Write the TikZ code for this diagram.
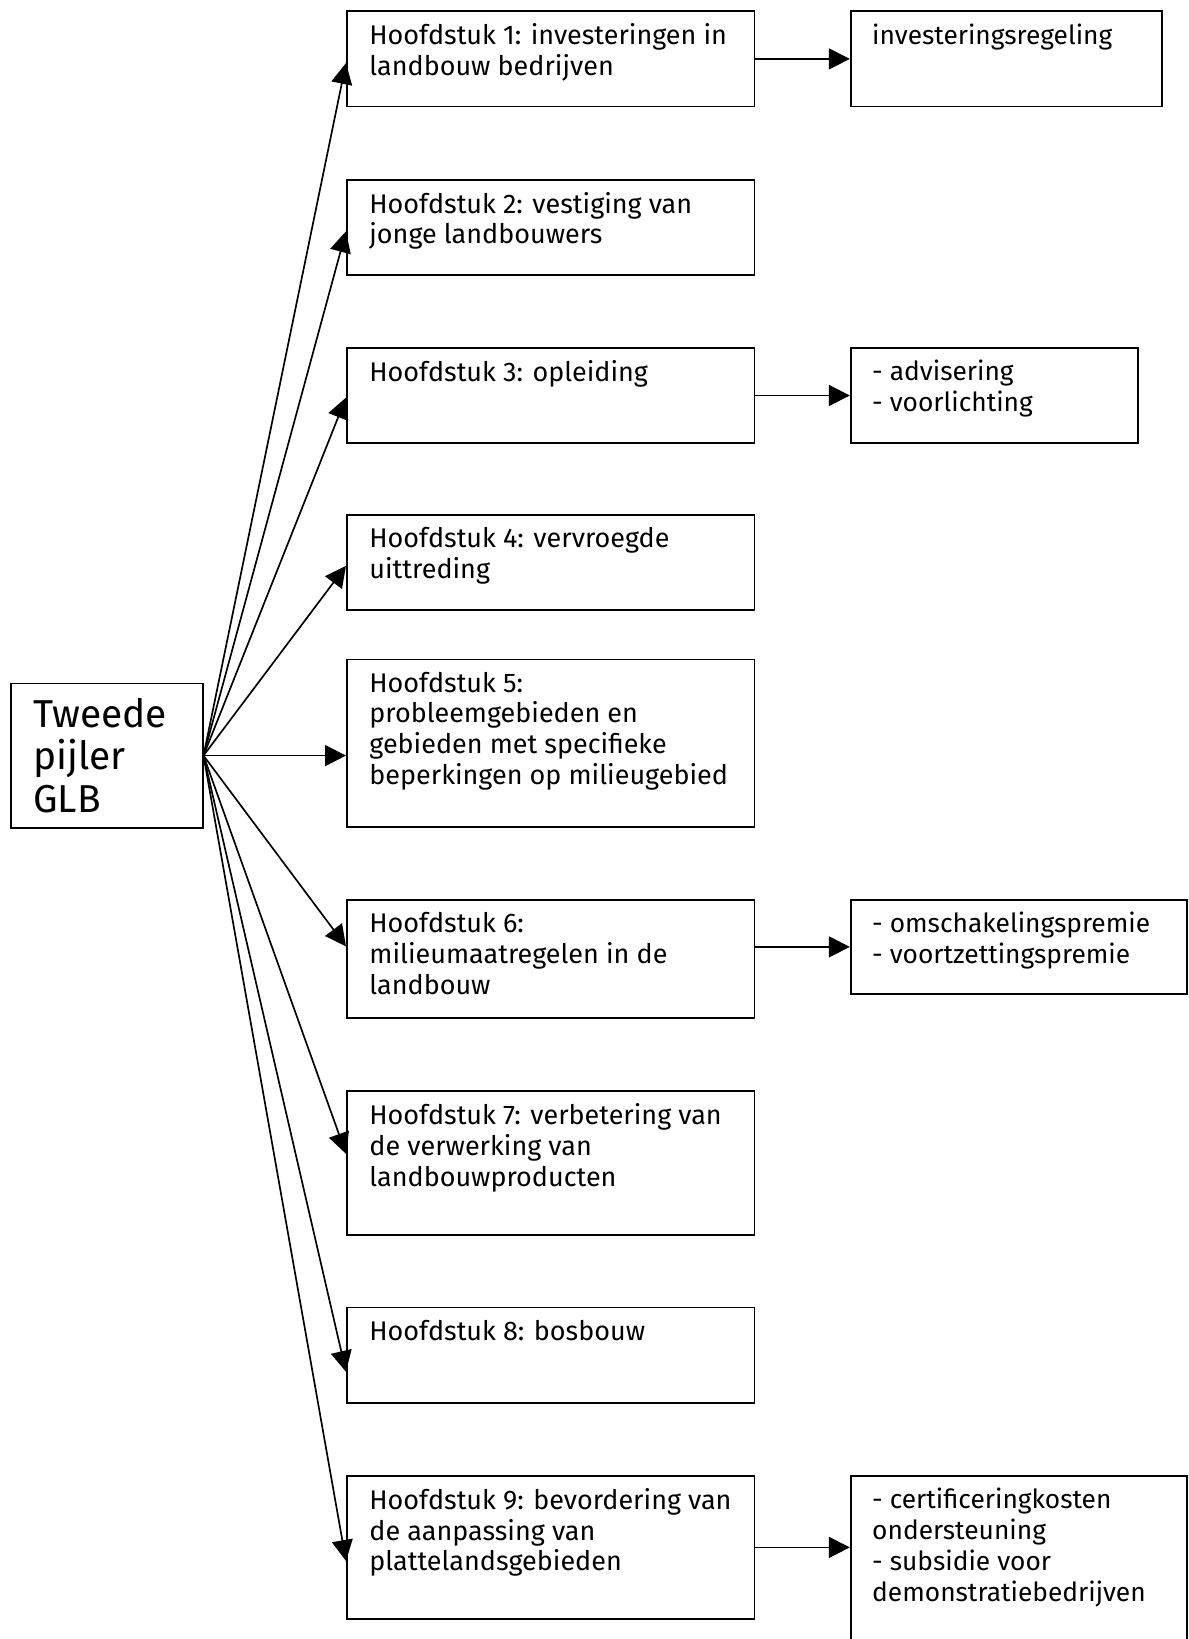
\documentclass[tikz,border=0pt]{standalone}
\usepackage{fontspec}
\setmainfont{Fira Sans}
\usetikzlibrary{arrows.meta,positioning}

\tikzset{
  chap/.style={draw, line width=0.85pt, anchor=north west, inner sep=0pt, minimum width=195pt},
  note/.style={chap, minimum width=#1},
  lbl/.style={anchor=north west, align=left, inner sep=0pt, font=\fontsize{12.9}{14.7}\selectfont,
              execute at begin node={\rule{0pt}{10pt}}},
  link/.style={-{Triangle[length=10pt,width=10pt]}, line width=0.8pt},
}

\begin{document}
\begin{tikzpicture}[x=0.5pt, y=-0.5pt]
\useasboundingbox (0,0) rectangle (1137,1568);
\clip (0,0) rectangle (1137,1568);

\node[chap, minimum width=91.5pt, minimum height=69pt, text width=70.5pt, inner xsep=10.5pt,
      align=left, font=\fontsize{18.6}{20.5}\selectfont] (main) at (10,653) {Tweede\\pijler\\GLB};

% chapters
\foreach \n/\y/\h/\txt in {
  1/10/45.5/{Hoofdstuk 1: investeringen in\\landbouw bedrijven},
  2/171/45.5/{Hoofdstuk 2: vestiging van\\jonge landbouwers},
  3/332/45.5/{Hoofdstuk 3: opleiding},
  4/492/45.5/{Hoofdstuk 4: vervroegde\\uittreding},
  5/630/80/{Hoofdstuk 5:\\probleemgebieden en\\gebieden met specifieke\\beperkingen op milieugebied},
  6/860/56.5/{Hoofdstuk 6:\\milieumaatregelen in de\\landbouw},
  7/1043/69/{Hoofdstuk 7: verbetering van\\de verwerking van\\landbouwproducten},
  8/1250/45.5/{Hoofdstuk 8: bosbouw},
  9/1411/68.5/{Hoofdstuk 9: bevordering van\\de aanpassing van\\plattelandsgebieden}}{
  \node[chap, minimum height=\h pt] (c\n) at (331,\y) {};
  \node[lbl] (t\n) at ([shift={(11pt,-6.2pt)}]c\n.north west) {\txt};
}

% measures
\foreach \n/\y/\w/\h/\txt in {
  1/10/149/45.5/{investeringsregeling},
  3/332/137.5/45.5/{- advisering\\- voorlichting},
  6/860/161/45/{- omschakelingspremie\\- voortzettingspremie},
  9/1411/161/100/{- certificeringkosten\\ondersteuning\\- subsidie voor\\demonstratiebedrijven}}{
  \node[note=\w pt, minimum height=\h pt] (r\n) at (813,\y) {};
  \node[lbl, font=\fontsize{12.6}{14.8}\selectfont] (s\n) at ([shift={(10.5pt,-6pt)}]r\n.north west) {\txt};
}

\foreach \n/\s in {1/-2,2/-2,3/-1,4/-1.5,6/6,7/4.5,8/-8,9/-6.5}
  \draw[link] (main.east) -- ([yshift=\s pt]c\n.west);
\draw[link] (main.east) -- (main.east -| c5.west);

\draw[link] (c1.east) -- (r1.west);
\draw[link] (c3.east) -- (r3.west);
\draw[link] (c6.east |- r6.west) -- (r6.west);
\draw[link] (c9.east) -- (c9.east -| r9.west);
\end{tikzpicture}
\end{document}
